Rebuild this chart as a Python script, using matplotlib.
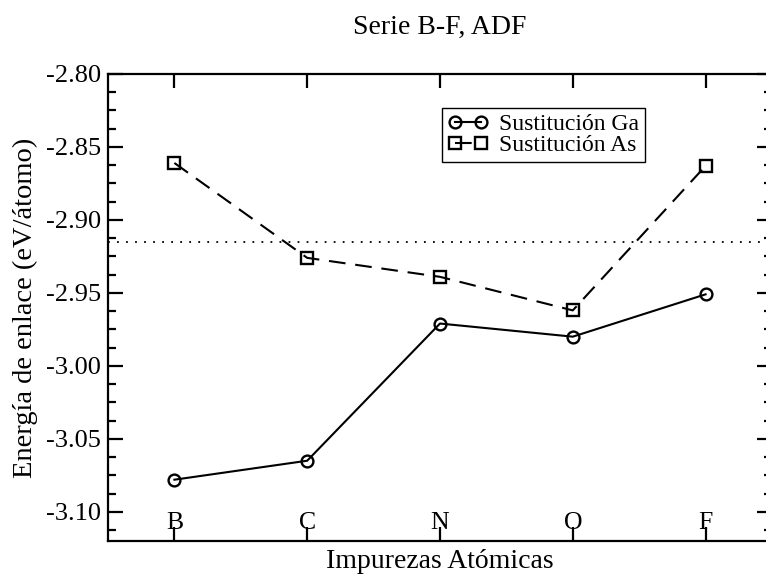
import matplotlib
matplotlib.use('Agg')
import matplotlib.pyplot as plt
from matplotlib.ticker import MultipleLocator, FixedLocator

# Binding energies (eV/atom) for B-F impurities, ADF calculation
impurezas = ['B', 'C', 'N', 'O', 'F']
energia_ga = [-3.078, -3.065, -2.971, -2.980, -2.951]
energia_as = [-2.861, -2.926, -2.939, -2.962, -2.863]
referencia = -2.915
yticks = [-3.10, -3.05, -3.00, -2.95, -2.90, -2.85, -2.80]
ytick_labels = ['-3.10', '-3.05', '-3.00', '-2.95', '-2.90', '-2.85', '-2.80']

plt.rcParams['font.family'] = ['Liberation Serif', 'DejaVu Serif']

fig = plt.figure(figsize=(7.66, 5.77), dpi=100)
ax = fig.add_axes([0.141, 0.0624, 0.8668, 0.8094])

x = list(range(len(impurezas)))

ax.axhline(referencia, color='black', lw=1.3, ls=(0, (1, 4)), zorder=1)
ax.plot(x, energia_ga, color='black', lw=1.5, marker='o', ms=8.5,
        mfc='none', mec='black', mew=1.7, label='Sustitución Ga', zorder=3)
ax.plot(x, energia_as, color='black', lw=1.5, ls=(0, (8, 4.7)), marker='s',
        ms=8.5, mfc='none', mec='black', mew=1.7, label='Sustitución As',
        zorder=3)

ax.set_xlim(-0.5, 4.5)
ax.set_ylim(-3.12, -2.80)

ax.set_xticks(x)
ax.set_xticklabels(impurezas)
ax.yaxis.set_major_locator(FixedLocator(yticks))
ax.set_yticklabels(ytick_labels)
ax.yaxis.set_minor_locator(MultipleLocator(0.0125))

ax.tick_params(axis='x', which='major', direction='in', length=10, width=1.6,
               top=True, pad=-21, labelsize=18.5)
ax.tick_params(axis='y', which='major', direction='in', length=11, width=1.6,
               right=True, pad=5, labelsize=19)
ax.tick_params(axis='y', which='minor', direction='in', length=5.8,
               width=1.6, right=True)
for s in ax.spines.values():
    s.set_linewidth(1.6)

ax.set_title('Serie B-F, ADF', fontsize=20, pad=29)
ax.set_xlabel('Impurezas Atómicas', fontsize=20, labelpad=6)
ax.set_ylabel('Energía de enlace (eV/átomo)', fontsize=20.5, labelpad=6)

leg = ax.legend(loc='upper left', bbox_to_anchor=(0.503, 0.927),
                borderaxespad=0, fontsize=17, numpoints=2, handlelength=1.7,
                handletextpad=0.45, labelspacing=-0.05, borderpad=0.25,
                fancybox=False, framealpha=1, edgecolor='black')
leg.get_frame().set_linewidth(1.0)

fig.savefig('out.png', dpi=100)
